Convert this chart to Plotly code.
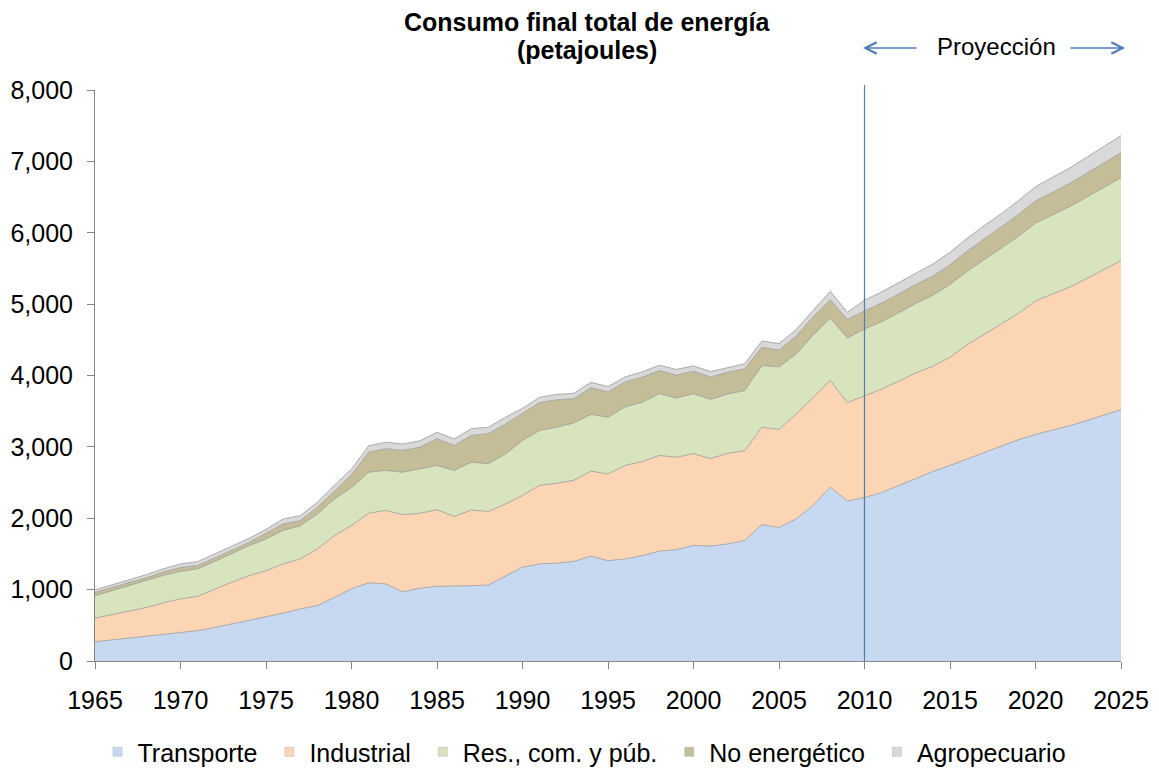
import plotly.graph_objects as go

years = list(range(1965, 2026))

transporte = [270, 295, 325, 345, 370, 395, 425, 470, 520, 565, 610, 670, 730, 775, 890, 1010,
              1095, 1080, 970, 1020, 1045, 1045, 1055, 1065, 1195, 1315, 1360, 1370, 1395, 1470, 1405,
              1430, 1475, 1540, 1560, 1620, 1610, 1640, 1690, 1910, 1870, 1990, 2180, 2435, 2240, 2290,
              2360, 2460, 2560, 2655, 2740, 2830, 2930, 3015, 3100, 3175, 3235, 3295, 3370, 3445, 3520]

industrial = [330, 355, 375, 405, 445, 475, 480, 540, 585, 630, 655, 690, 700, 795, 865, 890,
              975, 1030, 1080, 1050, 1075, 980, 1060, 1030, 1005, 1005, 1100, 1120, 1135, 1190, 1215,
              1310, 1320, 1340, 1295, 1285, 1225, 1270, 1255, 1365, 1375, 1470, 1520, 1495, 1380, 1425,
              1450, 1460, 1475, 1475, 1515, 1600, 1650, 1705, 1770, 1870, 1910, 1945, 1990, 2040, 2090]

residencial = [315, 335, 360, 375, 385, 385, 385, 385, 400, 420, 445, 470, 465, 490, 515, 530,
               575, 560, 595, 620, 620, 645, 670, 670, 700, 770, 770, 785, 805, 795, 795,
               820, 830, 865, 830, 840, 830, 830, 845, 865, 875, 840, 865, 875, 905, 935,
               945, 960, 975, 995, 1020, 1030, 1045, 1060, 1080, 1090, 1105, 1125, 1140, 1150, 1160]

no_energetico = [45, 47, 40, 40, 47, 55, 47, 47, 46, 46, 80, 90, 70, 93, 110, 180,
                 280, 305, 305, 305, 375, 350, 375, 420, 420, 375, 390, 385, 340, 375, 355,
                 350, 350, 325, 320, 315, 315, 305, 305, 255, 235, 255, 255, 255, 260, 255,
                 260, 262, 265, 268, 275, 282, 290, 297, 304, 311, 318, 326, 334, 342, 350]

agropecuario = [37, 35, 40, 45, 45, 50, 55, 60, 57, 56, 56, 70, 70, 70, 84, 80,
                90, 90, 90, 90, 90, 90, 95, 90, 95, 75, 75, 75, 75, 75, 75,
                70, 75, 75, 80, 75, 75, 70, 70, 90, 90, 90, 100, 120, 100, 150,
                155, 160, 165, 170, 175, 180, 185, 190, 195, 200, 210, 215, 225, 230, 240]

series_names = ["Transporte", "Industrial", "Res., com. y púb.", "No energético", "Agropecuario"]
series_values = [transporte, industrial, residencial, no_energetico, agropecuario]
series_colors = ["#c6d9f1", "#fcd5b5", "#d7e4bd", "#c4bd97", "#d9d9d9"]

x_ticks = list(range(1965, 2026, 5))
y_ticks = list(range(0, 8001, 1000))

FONT = "Liberation Sans, Arial, sans-serif"

# page offset (default body margin) and target plot area in screen pixels
OFF = 8
FIG_W, FIG_H = 1159 - OFF, 776 - OFF
L, R, T, B = 95, 1121, 90, 661
W, H = R - L, B - T


def px(xp):
    return (xp - L) / W


def py(yp):
    return (B - yp) / H


fig = go.Figure()
for name, vals, col in zip(series_names, series_values, series_colors):
    fig.add_trace(go.Scatter(
        x=years, y=vals, name=name, mode="lines", stackgroup="one",
        fillcolor=col, line=dict(color="#9a9a9a", width=0.8),
        showlegend=False, hoverinfo="x+y+name"))

for name, col in zip(series_names, series_colors):
    fig.add_trace(go.Scatter(
        x=[None], y=[None], name=name + "\u00a0", mode="markers",
        marker=dict(symbol="square", size=9, color=col, line=dict(color="#b0b0b0", width=0.5)),
        showlegend=True, hoverinfo="skip"))

fig.add_shape(type="line", xref="x", yref="paper", x0=2010, x1=2010, y0=0, y1=py(85),
              line=dict(color="#4f7fae", width=1.2))

# Title
fig.add_annotation(xref="paper", yref="paper", x=px(587), y=py(22), xanchor="center", yanchor="middle",
                   text="<b>Consumo final total de energía</b>", showarrow=False,
                   font=dict(family=FONT, size=25, color="#000000"))
fig.add_annotation(xref="paper", yref="paper", x=px(587), y=py(50), xanchor="center", yanchor="middle",
                   text="<b>(petajoules)</b>", showarrow=False,
                   font=dict(family=FONT, size=25, color="#000000"))

# Proyección annotation with arrows
fig.add_annotation(xref="paper", yref="paper", x=px(996), y=py(47), xanchor="center", yanchor="middle",
                   text="Proyección", showarrow=False,
                   font=dict(family=FONT, size=24, color="#000000"))
fig.add_annotation(xref="paper", yref="paper", x=px(863), y=py(48),
                   ax=55, ay=0, axref="pixel", ayref="pixel", text="",
                   showarrow=True, arrowhead=5, arrowsize=1.3, arrowwidth=1.7,
                   arrowcolor="#4a7ebb")
fig.add_annotation(xref="paper", yref="paper", x=px(1125), y=py(48),
                   ax=-56, ay=0, axref="pixel", ayref="pixel", text="",
                   showarrow=True, arrowhead=5, arrowsize=1.3, arrowwidth=1.7,
                   arrowcolor="#4a7ebb")

fig.update_layout(
    width=FIG_W, height=FIG_H,
    paper_bgcolor="white", plot_bgcolor="white",
    margin=dict(l=L - OFF, r=FIG_W + OFF - R, t=T - OFF, b=FIG_H + OFF - B, autoexpand=False),
    font=dict(family=FONT, size=25, color="#000000"),
    showlegend=True,
    legend=dict(orientation="h",
                xref="container", x=(588 - OFF) / FIG_W, xanchor="center",
                yref="container", y=(FIG_H - (752 - OFF)) / FIG_H, yanchor="middle",
                traceorder="normal",
                font=dict(family=FONT, size=25, color="#000000"),
                itemwidth=30, tracegroupgap=0, bgcolor="rgba(0,0,0,0)"),
    xaxis=dict(range=[1965, 2025], tickvals=x_ticks, ticktext=[str(v) for v in x_ticks],
               automargin=False,
               showgrid=False, zeroline=False, showline=True, linecolor="#868686", linewidth=1,
               ticks="outside", ticklen=7, tickcolor="#868686", ticklabelstandoff=10,
               tickfont=dict(family=FONT, size=25, color="#000000")),
    yaxis=dict(range=[0, 8000], tickvals=y_ticks, tickformat=",d",
               automargin=False,
               showgrid=False, zeroline=False, showline=True, linecolor="#868686", linewidth=1,
               ticks="outside", ticklen=7, tickcolor="#868686", ticklabelstandoff=9,
               tickfont=dict(family=FONT, size=25, color="#000000")),
)

fig.write_html("out.html")
